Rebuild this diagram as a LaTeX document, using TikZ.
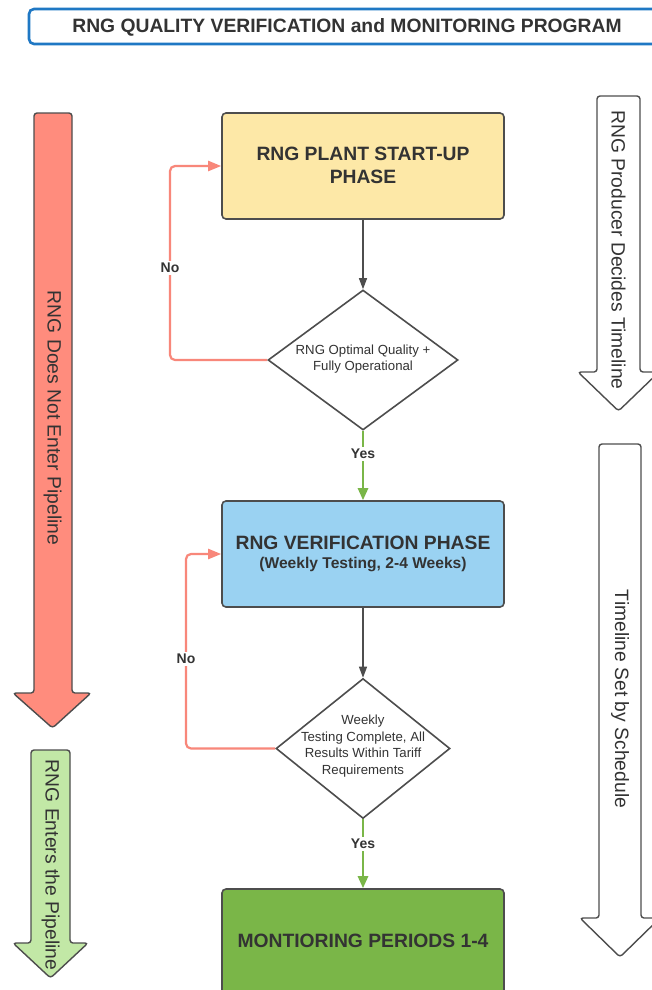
\documentclass[tikz,border=0pt]{standalone}
\usepackage{fontspec}
\setmainfont{Liberation Sans}
\usetikzlibrary{shapes.geometric,arrows.meta}
\definecolor{txt}{HTML}{333333}
\definecolor{edge}{HTML}{4D4D4D}
\definecolor{titleblue}{HTML}{1F78C4}
\definecolor{boxyellow}{HTML}{FDE8A7}
\definecolor{boxblue}{HTML}{9AD2F2}
\definecolor{boxgreen}{HTML}{7AB648}
\definecolor{salmon}{HTML}{FF8C7D}
\definecolor{noline}{HTML}{F8877A}
\definecolor{lightgreen}{HTML}{C2E8A6}
\tikzset{
  phasebox/.style={draw=edge, line width=1.6pt, rounded corners=4pt, minimum width=282pt, minimum height=106pt, text=txt},
  boxtext/.style={align=center, text=txt, font=\bfseries\fontsize{19.3}{23}\selectfont},
  decision/.style={draw=edge, line width=1.6pt, diamond, minimum width=190pt, minimum height=140pt, inner sep=0pt},
  dectext/.style={align=center, text=txt, font=\fontsize{13.2}{16.5}\selectfont},
  bigarrow/.style={draw=edge, line width=1.4pt, rounded corners=3pt},
  sidetext/.style={rotate=-90, text=txt, font=\fontsize{19.3}{23}\selectfont},
  grayflow/.style={draw=edge, line width=1.2pt, -{Triangle[width=8pt,length=11pt]}},
  yesflow/.style={draw=boxgreen, line width=2.6pt, -{Triangle[width=10pt,length=12pt]}},
  noflow/.style={draw=noline, line width=2.2pt, rounded corners=5pt, -{Triangle[width=10pt,length=13pt]}},
  flowlabel/.style={fill=white, inner sep=2pt, text=txt, font=\bfseries\fontsize{14}{16}\selectfont}
}
\begin{document}
\begin{tikzpicture}[x=1pt,y=-1pt]
\useasboundingbox (0,0) rectangle (652,990);
\clip (0,0) rectangle (652,990);
\fill[white] (0,0) rectangle (652,990);

% title
\draw[titleblue, line width=2.6pt, rounded corners=5pt] (29,9) rectangle (680,44);
\node[text=txt, font=\bfseries\fontsize{19.3}{22}\selectfont] (title) at (347,27) {RNG QUALITY VERIFICATION and MONITORING PROGRAM};

% side arrows
\draw[bigarrow, fill=salmon] (34,113) -- (72,113) -- (72,693) -- (91,693) -- (52.5,728) -- (13,693) -- (34,693) -- cycle;
\node[sidetext] (notenter) at (52.5,418) {RNG Does Not Enter Pipeline};

\draw[bigarrow, fill=lightgreen] (31,750) -- (70,750) -- (70,943) -- (88,943) -- (50.5,978) -- (13,943) -- (31,943) -- cycle;
\node[sidetext] (enters) at (50.5,865) {RNG Enters the Pipeline};

\draw[bigarrow, fill=white] (597,96) -- (640,96) -- (640,372) -- (659,372) -- (618.5,411) -- (578,372) -- (597,372) -- cycle;
\node[sidetext] (producer) at (618.5,250) {RNG Producer Decides Timeline};

\draw[bigarrow, fill=white] (599,444) -- (641,444) -- (641,918) -- (660,918) -- (620,957) -- (580,918) -- (599,918) -- cycle;
\node[sidetext] (schedule) at (620,699) {Timeline Set by Schedule};

% flow
\node[phasebox, fill=boxyellow] (b1) at (363,166) {};
\node[boxtext] (t1) at (363,165) {RNG PLANT START-UP\\PHASE};

\node[decision, fill=white] (d1) at (363,360) {};
\node[dectext] (t2) at (363,359) {RNG Optimal Quality +\\Fully Operational};

\node[phasebox, fill=boxblue] (b2) at (363,554) {};
\node[boxtext] (t3) at (363,543) {RNG VERIFICATION PHASE};
\node[boxtext, font=\bfseries\fontsize{15.6}{18}\selectfont] (t4) at (363,564) {(Weekly Testing, 2-4 Weeks)};

\node[decision, fill=white, minimum width=174pt] (d2) at (363,748.5) {};
\node[dectext] (t5) at (363,746) {Weekly\\Testing Complete, All\\Results Within Tariff\\Requirements};

\node[phasebox, fill=boxgreen, minimum height=112pt] (b3) at (363,945) {};
\node[boxtext] (t6) at (363,941) {MONTIORING PERIODS 1-4};

\draw[grayflow] (b1.south) -- (d1.north);
\draw[grayflow] (b2.south) -- (d2.north);
\draw[yesflow] (d1.south) -- (b2.north);
\draw[yesflow] (d2.south) -- (b3.north);

\coordinate (c1) at (170,360);
\coordinate (c2) at (186,748.5);
\draw[noflow] (d1.west) -- (c1) |- (b1.west);
\draw[noflow] (d2.west) -- (c2) |- (b2.west);

\node[flowlabel] (no1) at (170,268) {No};
\node[flowlabel] (no2) at (186,659) {No};
\node[flowlabel] (yes1) at (363,454) {Yes};
\node[flowlabel] (yes2) at (363,844) {Yes};
\end{tikzpicture}
\end{document}
